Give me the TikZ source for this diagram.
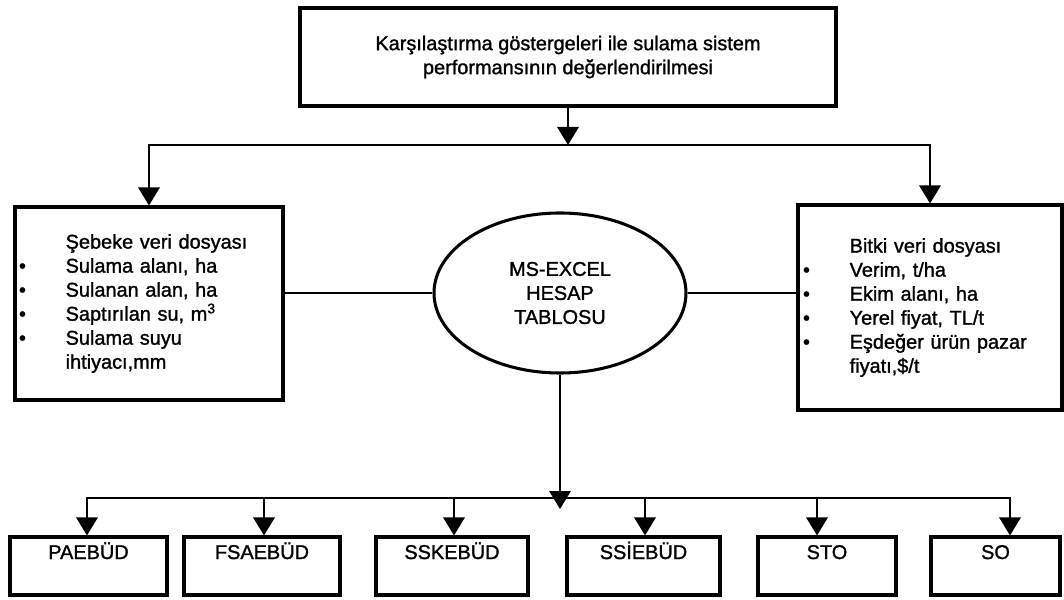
\documentclass[tikz,border=0pt]{standalone}
\usepackage{fontspec}
\setmainfont{Liberation Sans}[FakeBold=1.3]
\usetikzlibrary{
  arrows.meta,
  positioning,
  shapes.geometric,
}
\tikzstyle{box} = [
  draw,
  line width=2.6pt,
  inner sep=0pt,
  font=\fontsize{17}{20.5}\selectfont,
]
\tikzstyle{result} = [
  box,
  minimum height=1.74cm,
  text height=0.66cm,
  text depth=1.08cm,
]
\tikzstyle{arrow} = [
  -{Triangle[length=0.54cm,width=0.64cm]},
  line width=1.8pt,
]
\tikzstyle{link} = [line width=1.8pt]
\newcommand{\dotitem}{\makebox[1.4cm][l]{\textbullet}}
\newcommand{\noitem}{\hspace*{1.4cm}}

\begin{document}
\begin{tikzpicture}[x=0.03cm, y=-0.03cm]

        \useasboundingbox (0,0) rectangle (1064,600);

        % Evaluation
        \node [box, minimum width=16.08cm, minimum height=2.94cm, align=center] (goal) at (568,57)
              {Karşılaştırma göstergeleri ile sulama sistem\\performansının değerlendirilmesi};

        % Data files
        \node [box, minimum width=8.04cm, minimum height=5.79cm, align=left,
               text width=7.8cm, inner xsep=0.12cm] (network) at (149,303.5)
              {\noitem Şebeke veri dosyası\\
               \dotitem Sulama alanı, ha\\
               \dotitem Sulanan alan, ha\\
               \dotitem Saptırılan su, m\textsuperscript{3}\\
               \dotitem Sulama suyu\\
               \noitem ihtiyacı,mm};

        \node [box, minimum width=7.92cm, minimum height=6.15cm, align=left,
               text width=7.62cm, inner xsep=0.15cm] (crop) at (930,307.5)
              {\noitem Bitki veri dosyası\\
               \dotitem Verim, t/ha\\
               \dotitem Ekim alanı, ha\\
               \dotitem Yerel fiyat, TL/t\\
               \dotitem Eşdeğer ürün pazar\\
               \noitem fiyatı,\$/t};

        % Spreadsheet
        \node [box, ellipse, minimum width=7.56cm, minimum height=4.8cm, align=center] (excel) at (560,293)
              {MS-EXCEL\\HESAP\\TABLOSU};

        % Indicators
        \node [result, minimum width=4.71cm] (paebud) at (88.5,566) {PAEBÜD};
        \node [result, minimum width=4.68cm] (fsaebud) at (262,566) {FSAEBÜD};
        \node [result, minimum width=4.56cm] (sskebud) at (452,566) {SSKEBÜD};
        \node [result, minimum width=4.59cm] (ssiebud) at (643.5,566) {SSİEBÜD};
        \node [result, minimum width=4.14cm] (sto) at (827,566) {STO};
        \node [result, minimum width=3.87cm] (so) at (995.5,566) {SO};

        \coordinate (split) at (568,145);
        \draw [arrow] (goal.south) -- (split);
        \draw [arrow] (split) -| (network.north);
        \draw [arrow] (split) -| (crop.north);

        \draw [link] (excel.west) -- (excel.west -| network.east);
        \draw [link] (excel.east) -- (excel.east -| crop.west);

        \coordinate (merge) at (560,498);
        \coordinate (mergetip) at (560,509);
        \draw [arrow] (excel.south) -- (mergetip);
        \foreach \n/\dx in {paebud/-1.5, fsaebud/2, sskebud/2, ssiebud/1.5, sto/-10, so/14.5} {
          \draw [arrow] (merge) -| ([xshift=\dx*0.03cm]\n.north);
        }
      \end{tikzpicture}
\end{document}
